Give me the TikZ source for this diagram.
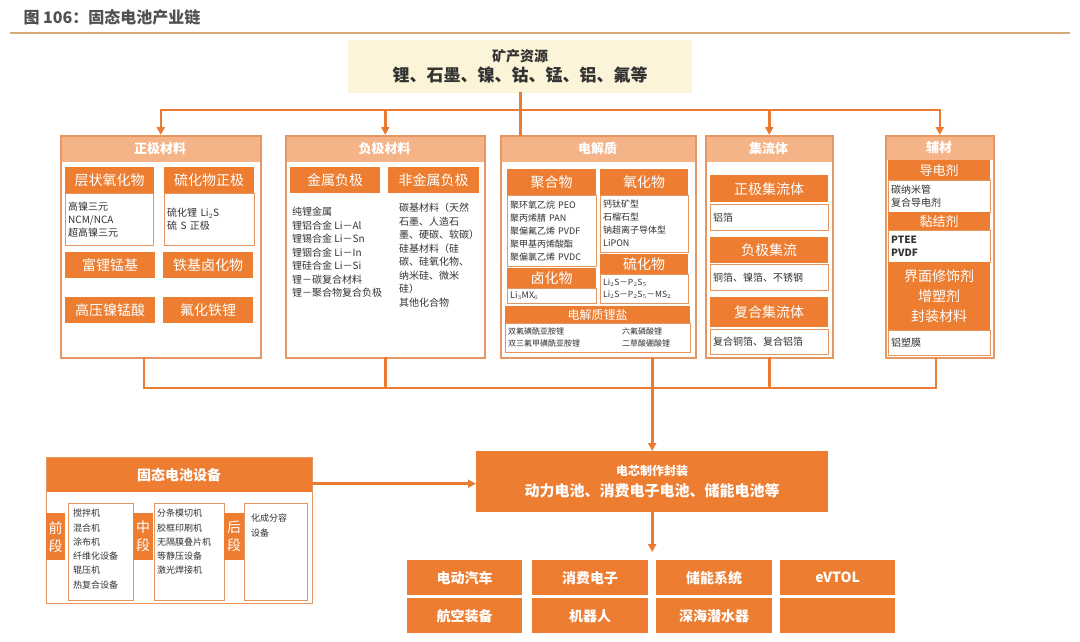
\documentclass[tikz,border=0pt]{standalone}
\usepackage{fontspec}
\setmainfont{Noto Sans CJK SC}
\usetikzlibrary{arrows.meta}
\definecolor{orng}{RGB}{236,125,49}
\definecolor{peach}{RGB}{244,180,136}
\definecolor{edge}{RGB}{232,150,95}
\definecolor{sand}{RGB}{252,244,216}
\definecolor{linec}{RGB}{233,124,52}
\definecolor{txt}{RGB}{50,50,50}
\definecolor{rulec}{RGB}{216,168,120}

\begin{document}
\begin{tikzpicture}[x=1pt, y=-1pt,
    hdr/.style={fill=peach, text=white, anchor=north west, inner sep=0pt, font=\bfseries\fontsize{13}{15}\selectfont},
    sub/.style={fill=orng, text=white, anchor=north west, inner sep=0pt, align=center, font=\fontsize{14}{17}\selectfont},
    lst/.style={draw=edge, fill=white, anchor=north west, inner xsep=3pt, inner ysep=2pt, align=left, text width=#1, text=txt, font=\fontsize{10}{13}\selectfont},
    plain/.style={anchor=north west, inner sep=0pt, align=left, text=txt, font=\fontsize{10}{13.5}\selectfont},
    frame/.style={draw=edge, line width=1.6pt, anchor=north west, inner sep=0pt},
    app/.style={fill=orng, text=white, anchor=north west, inner sep=0pt, minimum width=115pt, minimum height=35pt, font=\bfseries\fontsize{14}{16}\selectfont},
    link/.style={draw=linec, line width=2.6pt, line cap=rect},
    headarrow/.style={-{Triangle[length=8pt,width=8pt]}}
]
\useasboundingbox (0,0) rectangle (1080,642);

% title
\node[anchor=west, text=txt!85, font=\bfseries\fontsize{16}{18}\selectfont] (ttl) at (20,17) {图~106：固态电池产业链};
\draw[rulec, line width=1.5pt] (10,33) -- (1070,33);

% resources
\node[anchor=north west, fill=sand, minimum width=344pt, minimum height=53pt, inner sep=0pt, align=center, text=txt, font=\bfseries\fontsize{14}{17}\selectfont] (res) at (348,40)
    {矿产资源\\[3pt]\fontsize{17}{19}\selectfont 锂、石墨、镍、钴、锰、铝、氟等};

% column headers
\node[hdr, minimum width=200pt, minimum height=27pt] (zjh) at (60,135) {正极材料};
\node[hdr, minimum width=199pt, minimum height=27pt] (fjh) at (285,135) {负极材料};
\node[hdr, minimum width=195pt, minimum height=27pt] (djh) at (500,135) {电解质};
\node[hdr, minimum width=127pt, minimum height=27pt] (jlh) at (705,135) {集流体};
\node[hdr, minimum width=108pt, minimum height=25pt] (fch) at (885,135) {辅材};

% cathode
\node[sub, minimum width=89pt, minimum height=26pt] (a1) at (65,167) {层状氧化物};
\node[lst=82pt, minimum height=52pt] (a1l) at (65,193) {高镍三元\\NCM/NCA\\超高镍三元};
\node[sub, minimum width=90pt, minimum height=26pt] (a2) at (164,167) {硫化物正极};
\node[lst=84pt, minimum height=52pt] (a2l) at (164,193) {硫化锂 Li$_2$S\\硫 S 正极};
\node[sub, minimum width=90pt, minimum height=26pt] (a3) at (65,252) {富锂锰基};
\node[sub, minimum width=90pt, minimum height=26pt] (a4) at (163,252) {铁基卤化物};
\node[sub, minimum width=90pt, minimum height=26pt] (a5) at (65,297) {高压镍锰酸};
\node[sub, minimum width=90pt, minimum height=26pt] (a6) at (163,297) {氟化铁锂};

% anode
\node[sub, minimum width=90pt, minimum height=26pt] (b1) at (290,167) {金属负极};
\node[sub, minimum width=91pt, minimum height=26pt] (b2) at (388,167) {非金属负极};
\node[plain] (b1l) at (292,207) {纯锂金属\\锂铝合金 Li－Al\\锂锡合金 Li－Sn\\锂铟合金 Li－In\\锂硅合金 Li－Si\\锂－碳复合材料\\锂－聚合物复合负极};
\node[plain] (b2l) at (399,203) {碳基材料（天然\\石墨、人造石\\墨、硬碳、软碳）\\硅基材料（硅\\碳、硅氧化物、\\纳米硅、微米\\硅）\\其他化合物};

% electrolyte
\node[sub, minimum width=89pt, minimum height=26pt] (c1) at (507,169) {聚合物};
\node[lst=83pt, minimum height=71pt, font=\fontsize{9}{13}\selectfont] (c1l) at (507,195) {聚环氧乙烷 PEO\\聚丙烯腈 PAN\\聚偏氟乙烯 PVDF\\聚甲基丙烯酸酯\\聚偏氯乙烯 PVDC};
\node[sub, minimum width=89pt, minimum height=20pt] (c2) at (507,268) {卤化物};
\node[lst=83pt, minimum height=15pt, font=\fontsize{9}{10}\selectfont] (c2l) at (507,288) {Li$_3$MX$_6$};
\node[sub, minimum width=88pt, minimum height=26pt] (c3) at (600,169) {氧化物};
\node[lst=82pt, minimum height=57pt, font=\fontsize{9}{13}\selectfont] (c3l) at (600,195) {钙钛矿型\\石榴石型\\钠超离子导体型\\LiPON};
\node[sub, minimum width=88pt, minimum height=20pt] (c4) at (600,254) {硫化物};
\node[lst=82pt, minimum height=29pt, font=\fontsize{8.5}{12}\selectfont] (c4l) at (600,274) {Li$_2$S－P$_2$S$_5$\\Li$_2$S－P$_2$S$_5$－MS$_2$};
\node[sub, minimum width=185pt, minimum height=17pt, font=\fontsize{12}{13}\selectfont] (c5) at (505,306) {电解质锂盐};
\node[lst=179pt, minimum height=29pt, font=\fontsize{8}{12}\selectfont] (c5l) at (505,323) {双氟磺酰亚胺锂\\双三氟甲磺酰亚胺锂};
\node[plain, font=\fontsize{8}{12}\selectfont] (c5r) at (622,327.5) {六氟磷酸锂\\二草酸硼酸锂};

% current collector
\node[sub, minimum width=118pt, minimum height=27pt] (d1) at (710,175) {正极集流体};
\node[lst=112pt, minimum height=26pt] (d1l) at (710,204) {铝箔};
\node[sub, minimum width=118pt, minimum height=26pt] (d2) at (710,237) {负极集流};
\node[lst=112pt, minimum height=26pt] (d2l) at (710,264) {铜箔、镍箔、不锈钢};
\node[sub, minimum width=118pt, minimum height=30pt] (d3) at (710,297) {复合集流体};
\node[lst=112pt, minimum height=25pt] (d3l) at (710,329) {复合铜箔、复合铝箔};

% auxiliary
\node[sub, minimum width=102pt, minimum height=20pt, font=\fontsize{13}{14}\selectfont] (e1) at (888,160) {导电剂};
\node[lst=96pt, minimum height=32pt] (e1l) at (888,180) {碳纳米管\\复合导电剂};
\node[sub, minimum width=102pt, minimum height=18pt, font=\fontsize{13}{14}\selectfont] (e2) at (888,212) {黏结剂};
\node[lst=96pt, minimum height=32pt, font=\bfseries\fontsize{10}{13}\selectfont] (e2l) at (888,230) {PTEE\\PVDF};
\node[sub, minimum width=102pt, minimum height=68pt, font=\fontsize{14}{20}\selectfont] (e3) at (888,262) {界面修饰剂\\增塑剂\\封装材料};
\node[lst=96pt, minimum height=25pt] (e4) at (888,330) {铝塑膜};

% column frames
\node[frame, minimum width=200pt, minimum height=222pt] (zj) at (60,135) {};
\node[frame, minimum width=199pt, minimum height=222pt] (fj) at (285,135) {};
\node[frame, minimum width=195pt, minimum height=222pt] (dj) at (500,135) {};
\node[frame, minimum width=127pt, minimum height=222pt] (jl) at (705,135) {};
\node[frame, minimum width=108pt, minimum height=222pt] (fc) at (885,135) {};

% equipment
\node[sub, minimum width=266pt, minimum height=35pt, font=\bfseries\fontsize{14}{16}\selectfont] (eqh) at (46,457) {固态电池设备};
\node[frame, line width=1.2pt, minimum width=266pt, minimum height=146pt] (eq) at (46,457) {};
\node[sub, minimum width=19pt, minimum height=47pt, font=\fontsize{14}{18}\selectfont] (qd) at (46,513) {前\\段};
\node[lst=59pt, minimum height=97pt] (qdl) at (68,503) {};
\node[plain, font=\fontsize{9}{14.3}\selectfont] (qdt) at (73,509) {搅拌机\\混合机\\涂布机\\纤维化设备\\辊压机\\热复合设备};
\node[sub, minimum width=20pt, minimum height=47pt, font=\fontsize{14}{18}\selectfont] (zd) at (133,513) {中\\段};
\node[lst=64pt, minimum height=97pt] (zdl) at (154,503) {};
\node[plain, font=\fontsize{9}{14.3}\selectfont] (zdt) at (157,509) {分条模切机\\胶框印刷机\\无隔膜叠片机\\等静压设备\\激光焊接机};
\node[sub, minimum width=20pt, minimum height=47pt, font=\fontsize{14}{18}\selectfont] (hd) at (224,513) {后\\段};
\node[lst=57pt, minimum height=97pt] (hdl) at (244,503) {};
\node[plain, font=\fontsize{9}{14.3}\selectfont] (hdt) at (251,514) {化成分容\\设备};

% cell manufacturing
\node[sub, minimum width=352pt, minimum height=61pt, font=\bfseries\fontsize{12}{15}\selectfont] (dx) at (476,451)
    {电芯制作封装\\[6pt]\fontsize{15}{17}\selectfont 动力电池、消费电子电池、储能电池等};

% applications
\node[app] (g1) at (407,560) {电动汽车};
\node[app, minimum width=116pt] (g2) at (532,560) {消费电子};
\node[app, minimum width=116pt] (g3) at (656,560) {储能系统};
\node[app] (g4) at (780,560) {eVTOL};
\node[app] (g5) at (407,598) {航空装备};
\node[app, minimum width=116pt] (g6) at (532,598) {机器人};
\node[app, minimum width=116pt] (g7) at (656,598) {深海潜水器};
\node[app] (g8) at (780,598) {};

% connectors
\coordinate (top) at (520,110);
\coordinate (bot) at (655,388);
\coordinate (appt) at (652,552);
\coordinate (eqj) at ([yshift=-9pt]eqh.east);
\coordinate (zjb) at ([xshift=-17pt]zj.south);
\coordinate (fcb) at ([xshift=-4pt]fc.south);
\draw[link] (res.south) -- (res.south |- djh.north);
\draw[link] (zj.north |- top) -- (fc.north |- top);
\foreach \n in {zj,fj,jl,fc}
    \draw[link,headarrow] (\n.north |- top) -- (\n.north);
\foreach \n in {zjb,fj.south,jl.south,fcb}
    \draw[link] (\n) -- (\n |- bot);
\draw[link] (zjb |- bot) -- (fcb |- bot);
\draw[link,headarrow] (dx.north |- dj.south) -- (dx.north);
\draw[link,headarrow] (eqj) -- (dx.west |- eqj);
\draw[link,headarrow] (dx.south) -- (dx.south |- appt);
\end{tikzpicture}
\end{document}
